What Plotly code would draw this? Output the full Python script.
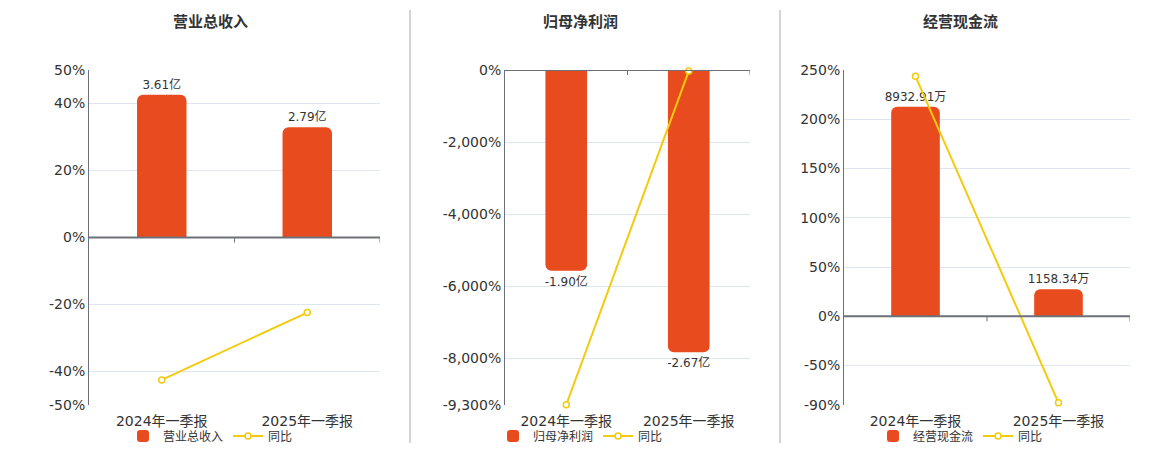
import plotly.graph_objects as go

# data
periods = ['2024年一季报', '2025年一季报']

revenue = [3.61, 2.79]            # 亿
revenue_yoy = [-42.5, -22.4]      # %
profit = [-1.90, -2.67]           # 亿
profit_yoy = [-9295, -30]         # %
cashflow = [8932.91, 1158.34]     # 万
cashflow_yoy = [243.6, -87.8]     # %

revenue_ticks = [50, 40, 20, 0, -20, -40, -50]
revenue_tick_text = ['50%', '40%', '20%', '0%', '-20%', '-40%', '-50%']
profit_ticks = [0, -2000, -4000, -6000, -8000, -9300]
profit_tick_text = ['0%', '-2,000%', '-4,000%', '-6,000%', '-8,000%', '-9,300%']
cash_ticks = [250, 200, 150, 100, 50, 0, -50, -90]
cash_tick_text = ['250%', '200%', '150%', '100%', '50%', '0%', '-50%', '-90%']

BAR = '#E84B1D'
LINE = '#F3CB0E'
AXIS = '#6E7079'
GRID = '#E0E6F1'
TEXT = '#333333'
FONT = 'DejaVu Sans, Noto Sans CJK SC, sans-serif'

# the page body keeps an 8px margin, so the figure is sized to fit inside it;
# a fixed bottom margin leaves room for the legends
W, H, OFF, MB = 1152, 442, 8, 40


def X(px):
    return (px - OFF) / W


def Y(py):
    # paper coordinates (plot area is H - MB tall)
    return 1 - (py - OFF) / (H - MB)


def YC(py):
    # container coordinates
    return 1 - (py - OFF) / H


panels = [
    dict(title='营业总收入', name='营业总收入', bars=revenue, yoy=revenue_yoy, unit='亿',
         pct_range=[-50, 50], bar_range=[-4.235, 4.235],
         ticks=revenue_ticks, tick_text=revenue_tick_text,
         xdom=[X(89), X(380)], title_x=X(210), legend_x=X(123)),
    dict(title='归母净利润', name='归母净利润', bars=profit, yoy=profit_yoy, unit='亿',
         pct_range=[-9300, 0], bar_range=[-3.17, 0],
         ticks=profit_ticks, tick_text=profit_tick_text,
         xdom=[X(505), X(750)], title_x=X(580), legend_x=X(493)),
    dict(title='经营现金流', name='经营现金流', bars=cashflow, yoy=cashflow_yoy, unit='万',
         pct_range=[-90, 250], bar_range=[-3782, 10505],
         ticks=cash_ticks, tick_text=cash_tick_text,
         xdom=[X(844), X(1130)], title_x=X(960), legend_x=X(873)),
]

ydom = [Y(405), Y(70)]

fig = go.Figure()
layout = dict(
    template='none',
    width=W, height=H,
    margin=dict(l=0, r=0, t=0, b=MB, pad=0),
    paper_bgcolor='white', plot_bgcolor='white',
    font=dict(family=FONT, color=TEXT, size=12),
    showlegend=True,
    annotations=[], shapes=[],
)

for i, p in enumerate(panels):
    k = i + 1
    xname = 'x' if k == 1 else 'x%d' % k
    ybar = 'y' if k == 1 else 'y%d' % (2 * k - 1)
    ypct = 'y%d' % (2 * k)
    leg = 'legend' if k == 1 else 'legend%d' % k

    fig.add_trace(go.Bar(
        x=periods, y=p['bars'], name=p['name'],
        xaxis=xname, yaxis=ybar, legend=leg,
        marker=dict(color=BAR, cornerradius=6, line=dict(width=0)),
        width=0.34,
        text=['{:.2f}{}'.format(v, p['unit']) for v in p['bars']],
        textposition='outside', cliponaxis=False, constraintext='none',
        textfont=dict(size=12, color=TEXT),
    ))
    fig.add_trace(go.Scatter(
        x=periods, y=p['yoy'], name='同比', mode='lines+markers',
        xaxis=xname, yaxis=ypct, legend=leg,
        line=dict(color=LINE, width=2),
        marker=dict(symbol='circle', size=6, color='white',
                    line=dict(color=LINE, width=1.5)),
        cliponaxis=False,
    ))

    xkey = 'xaxis' if k == 1 else 'xaxis%d' % k
    ybkey = 'yaxis' if k == 1 else 'yaxis%d' % (2 * k - 1)
    ypkey = 'yaxis%d' % (2 * k)

    layout[xkey] = dict(domain=p['xdom'], anchor=ybar, type='category',
                        range=[-0.5, 1.5], showgrid=False, zeroline=False,
                        showline=False, ticks='', automargin=False,
                        ticklabelstandoff=6,
                        tickfont=dict(size=14, color=TEXT))
    layout[ybkey] = dict(domain=ydom, anchor=xname, range=p['bar_range'],
                         visible=False, showgrid=False, zeroline=False,
                         automargin=False)
    layout[ypkey] = dict(domain=ydom, anchor=xname, overlaying=ybar, side='left',
                         range=p['pct_range'], tickvals=p['ticks'],
                         ticktext=p['tick_text'], showgrid=True, gridcolor=GRID,
                         gridwidth=1, zeroline=False, showline=True,
                         linecolor=AXIS, linewidth=1, ticks='', automargin=False,
                         tickfont=dict(size=14, color=TEXT))
    layout[leg] = dict(orientation='h', x=p['legend_x'], y=YC(436),
                       xref='container', yref='container',
                       xanchor='left', yanchor='middle',
                       font=dict(size=12, color=TEXT), bgcolor='rgba(0,0,0,0)',
                       borderwidth=0, itemwidth=30, tracegroupgap=0)

    layout['annotations'].append(dict(
        text='<b>%s</b>' % p['title'], x=p['title_x'], y=Y(22),
        xref='paper', yref='paper', xanchor='center', yanchor='middle',
        showarrow=False, font=dict(size=15, color=TEXT)))

    # x axis line drawn at zero, with category boundary ticks
    layout['shapes'].append(dict(
        type='line', xref=xname, yref=ypct, x0=-0.5, x1=1.5, y0=0, y1=0,
        line=dict(color=AXIS, width=2), layer='above'))
    for bx in [0.5, 1.5]:
        layout['shapes'].append(dict(
            type='line', xref=xname, yref=ypct, ysizemode='pixel', yanchor=0,
            x0=bx, x1=bx, y0=0, y1=-5,
            line=dict(color=AXIS, width=1), layer='above'))

# separators between panels
for sx in [410, 780]:
    layout['shapes'].append(dict(
        type='line', xref='paper', yref='paper', x0=X(sx), x1=X(sx),
        y0=Y(443), y1=Y(10), line=dict(color='#AAAAAA', width=1)))

fig.update_layout(**layout)
fig.write_html("out.html")
